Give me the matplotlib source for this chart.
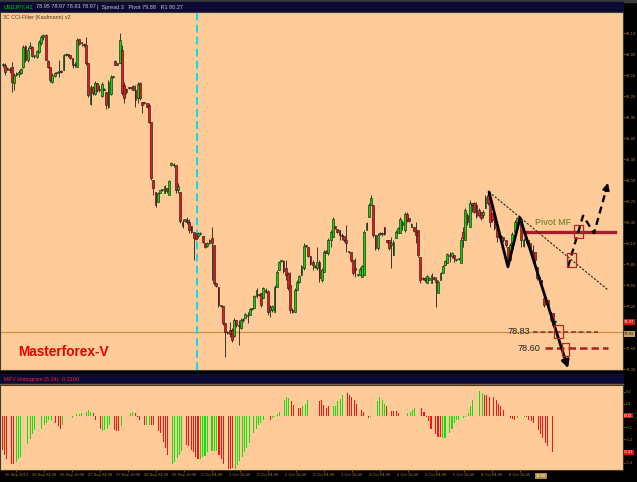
import numpy as np
import matplotlib.pyplot as plt
from matplotlib.patches import Rectangle

# USDJPY H1 candles
opens = [
    82.64, 82.65, 82.57, 82.58, 82.61, 82.39, 82.50, 82.51, 82.53, 82.61,
    82.91, 82.71, 82.89, 82.90, 82.77, 82.76, 82.83, 82.96, 83.04, 83.07,
    82.70, 82.62, 82.40, 82.48, 82.53, 82.54, 82.56, 82.57, 82.79, 82.79,
    82.79, 82.75, 82.65, 82.62, 83.01, 82.96, 82.94, 82.93, 82.67, 82.08,
    82.33, 82.23, 82.39, 82.29, 82.20, 82.30, 82.26, 82.05, 82.23, 82.47,
    82.70, 82.65, 82.67, 82.86, 82.36, 82.26, 82.31, 82.31, 82.34, 82.29,
    82.17, 82.39, 82.11, 82.10, 82.10, 82.07, 81.83, 81.00, 80.83, 80.68,
    80.82, 80.86, 80.82, 80.89, 80.79, 81.21, 81.23, 81.21, 80.86, 80.83,
    80.40, 80.41, 80.43, 80.40, 80.34, 80.26, 80.23, 80.20, 80.23, 80.20,
    80.10, 80.06, 80.10, 80.17, 80.07, 79.53, 79.47, 79.20, 79.20, 78.96,
    78.81, 78.86, 78.86, 78.77, 79.00, 78.93, 78.89, 79.00, 79.03, 79.07,
    79.07, 79.16, 79.17, 79.34, 79.37, 79.39, 79.31, 79.43, 79.41, 79.14,
    79.14, 79.11, 79.47, 79.71, 79.84, 79.84, 79.74, 79.67, 79.50, 79.14,
    79.11, 79.43, 79.54, 79.64, 79.74, 80.06, 80.04, 79.91, 79.83, 79.77,
    79.74, 79.83, 79.57, 79.69, 79.99, 79.96, 80.14, 80.19, 80.34, 80.30,
    80.29, 80.21, 80.20, 80.14, 79.97, 79.97, 79.86, 79.74, 79.64, 79.64,
    79.61, 79.64, 80.29, 80.47, 80.64, 80.64, 80.21, 80.03, 80.24, 80.23,
    80.33, 80.14, 80.14, 80.07, 79.93, 80.17, 80.24, 80.24, 80.36, 80.29,
    80.51, 80.46, 80.33, 80.33, 80.26, 80.29, 79.90, 79.60, 79.60, 79.53,
    79.57, 79.53, 79.61, 79.57, 79.39, 79.57, 79.67, 79.79, 79.81, 79.93,
    79.91, 79.93, 79.86, 79.87, 79.81, 80.26, 80.14, 80.50, 80.33, 80.67,
    80.67, 80.64, 80.57, 80.54, 80.50, 80.60, 80.79, 80.67, 80.53, 80.50,
    80.33, 80.21, 80.20, 80.19, 80.14, 80.04, 79.86, 80.04, 80.26, 80.40,
    80.43, 80.43, 80.06, 80.14, 80.14, 80.10, 80.00, 79.97, 79.76, 79.61,
    79.57, 79.31, 79.26, 79.29, 79.11, 79.10, 78.97]
highs = [
    82.67, 82.67, 82.61, 82.61, 82.68, 82.53, 82.54, 82.57, 82.60, 82.93,
    82.93, 82.90, 82.97, 82.91, 82.79, 82.86, 83.00, 83.07, 83.08, 83.08,
    82.71, 82.62, 82.53, 82.54, 82.54, 82.71, 82.57, 82.80, 82.82, 82.80,
    82.79, 82.75, 82.68, 83.03, 83.01, 82.97, 82.96, 83.04, 82.67, 82.36,
    82.34, 82.42, 82.39, 82.36, 82.40, 82.31, 82.26, 82.43, 82.50, 82.48,
    82.71, 82.67, 83.10, 82.93, 82.40, 82.31, 82.33, 82.33, 82.36, 82.36,
    82.40, 82.40, 82.11, 82.11, 82.10, 82.10, 81.83, 81.00, 80.83, 80.83,
    80.86, 80.87, 80.93, 80.89, 81.00, 81.26, 81.24, 81.21, 80.96, 80.83,
    80.44, 80.44, 80.47, 80.44, 80.34, 80.26, 80.24, 80.26, 80.26, 80.20,
    80.10, 80.11, 80.16, 80.33, 80.07, 79.53, 79.47, 79.21, 79.20, 78.96,
    78.84, 78.97, 78.89, 79.03, 79.00, 79.00, 79.03, 79.03, 79.10, 79.11,
    79.17, 79.17, 79.36, 79.46, 79.37, 79.39, 79.47, 79.46, 79.43, 79.21,
    79.21, 79.50, 79.71, 79.84, 79.86, 79.86, 79.86, 79.69, 79.69, 79.17,
    79.46, 79.57, 79.64, 79.79, 80.10, 80.07, 80.04, 79.91, 79.86, 79.79,
    80.04, 79.86, 79.74, 80.00, 80.00, 80.17, 80.29, 80.47, 80.34, 80.30,
    80.29, 80.24, 80.20, 80.36, 79.99, 79.97, 79.86, 79.89, 79.66, 79.76,
    79.79, 80.29, 80.40, 80.67, 80.79, 80.64, 80.21, 80.24, 80.26, 80.26,
    80.33, 80.14, 80.14, 80.19, 80.14, 80.29, 80.33, 80.47, 80.43, 80.54,
    80.54, 80.46, 80.39, 80.33, 80.40, 80.29, 79.90, 79.61, 79.61, 79.64,
    79.61, 79.67, 79.61, 79.61, 79.57, 79.69, 79.79, 79.86, 79.96, 79.97,
    79.97, 79.93, 79.87, 79.89, 80.19, 80.33, 80.60, 80.53, 80.71, 80.67,
    80.69, 80.69, 80.60, 80.54, 80.57, 80.79, 80.83, 80.69, 80.53, 80.50,
    80.33, 80.23, 80.21, 80.19, 80.14, 80.04, 80.10, 80.26, 80.43, 80.47,
    80.50, 80.43, 80.17, 80.21, 80.14, 80.10, 80.07, 79.97, 79.76, 79.61,
    79.57, 79.31, 79.31, 79.29, 79.11, 79.10, 79.00]
lows = [
    82.62, 82.50, 82.57, 82.53, 82.26, 82.29, 82.48, 82.47, 82.51, 82.60,
    82.68, 82.68, 82.87, 82.76, 82.75, 82.75, 82.82, 82.93, 83.00, 82.71,
    82.60, 82.40, 82.39, 82.47, 82.53, 82.47, 82.53, 82.57, 82.77, 82.76,
    82.73, 82.60, 82.62, 82.62, 82.93, 82.91, 82.90, 82.64, 82.19, 82.07,
    82.22, 82.22, 82.26, 82.26, 82.19, 82.28, 82.01, 82.03, 82.22, 82.46,
    82.64, 82.64, 82.67, 82.22, 82.10, 82.23, 82.30, 82.30, 82.28, 82.04,
    82.10, 82.14, 81.96, 82.08, 82.04, 81.82, 81.00, 80.79, 80.61, 80.68,
    80.82, 80.85, 80.82, 80.82, 80.79, 81.20, 81.19, 80.82, 80.82, 80.39,
    80.31, 80.40, 80.37, 80.24, 80.24, 79.86, 80.14, 80.17, 80.21, 80.10,
    80.03, 80.04, 80.09, 79.57, 79.50, 79.47, 79.19, 79.19, 78.93, 78.47,
    78.80, 78.76, 78.69, 78.76, 78.90, 78.64, 78.87, 78.97, 79.03, 78.96,
    79.07, 79.14, 79.17, 79.31, 79.34, 79.19, 79.31, 79.39, 79.07, 79.04,
    79.11, 79.11, 79.47, 79.71, 79.83, 79.67, 79.57, 79.43, 79.10, 79.10,
    79.11, 79.43, 79.53, 79.64, 79.71, 80.04, 79.90, 79.79, 79.71, 79.74,
    79.71, 79.54, 79.54, 79.69, 79.96, 79.93, 80.04, 80.19, 80.30, 80.24,
    80.14, 80.14, 80.11, 79.97, 79.96, 79.83, 79.64, 79.61, 79.63, 79.64,
    79.61, 79.64, 80.29, 80.47, 80.64, 80.19, 80.00, 80.00, 80.21, 80.20,
    80.21, 80.10, 80.00, 79.74, 79.93, 80.17, 80.24, 80.24, 80.29, 80.26,
    80.40, 80.40, 80.33, 80.26, 80.10, 79.90, 79.53, 79.57, 79.54, 79.53,
    79.57, 79.53, 79.57, 79.19, 79.39, 79.57, 79.67, 79.79, 79.81, 79.83,
    79.89, 79.83, 79.84, 79.86, 79.81, 80.04, 80.14, 80.36, 80.33, 80.54,
    80.53, 80.46, 80.47, 80.43, 80.46, 80.60, 80.64, 80.33, 80.40, 80.29,
    80.11, 80.17, 80.14, 80.11, 80.04, 79.76, 79.86, 80.04, 80.26, 80.40,
    80.39, 80.04, 80.04, 80.10, 80.04, 79.97, 79.90, 79.81, 79.57, 79.57,
    79.53, 79.19, 79.26, 79.19, 78.97, 78.90, 78.90]
closes = [
    82.65, 82.54, 82.60, 82.57, 82.40, 82.50, 82.53, 82.54, 82.58, 82.90,
    82.71, 82.86, 82.91, 82.77, 82.77, 82.85, 82.97, 83.04, 83.07, 82.71,
    82.62, 82.43, 82.50, 82.53, 82.54, 82.56, 82.54, 82.79, 82.80, 82.79,
    82.75, 82.65, 82.64, 83.00, 82.94, 82.96, 82.93, 82.67, 82.22, 82.33,
    82.25, 82.39, 82.29, 82.30, 82.37, 82.29, 82.07, 82.40, 82.47, 82.47,
    82.65, 82.67, 83.00, 82.25, 82.17, 82.30, 82.31, 82.31, 82.29, 82.14,
    82.37, 82.17, 82.07, 82.10, 82.05, 81.83, 81.03, 80.89, 80.64, 80.82,
    80.86, 80.86, 80.91, 80.85, 80.99, 81.24, 81.21, 80.86, 80.91, 80.41,
    80.34, 80.44, 80.40, 80.29, 80.26, 80.17, 80.16, 80.24, 80.23, 80.11,
    80.04, 80.10, 80.14, 80.10, 79.53, 79.49, 79.21, 79.20, 78.96, 78.83,
    78.83, 78.80, 78.71, 79.00, 78.93, 78.91, 79.00, 79.01, 79.09, 79.06,
    79.16, 79.17, 79.34, 79.43, 79.36, 79.21, 79.46, 79.40, 79.11, 79.17,
    79.20, 79.47, 79.69, 79.83, 79.84, 79.70, 79.64, 79.46, 79.14, 79.11,
    79.43, 79.54, 79.63, 79.77, 80.06, 80.06, 79.91, 79.80, 79.79, 79.76,
    79.83, 79.60, 79.71, 79.97, 79.96, 80.14, 80.26, 80.44, 80.31, 80.26,
    80.21, 80.20, 80.14, 80.10, 79.97, 79.86, 79.67, 79.71, 79.64, 79.73,
    79.77, 80.26, 80.39, 80.64, 80.74, 80.21, 80.03, 80.21, 80.23, 80.24,
    80.23, 80.11, 80.03, 80.10, 80.11, 80.26, 80.31, 80.44, 80.40, 80.51,
    80.43, 80.41, 80.37, 80.27, 80.21, 79.93, 79.57, 79.59, 79.57, 79.63,
    79.60, 79.64, 79.59, 79.54, 79.54, 79.67, 79.77, 79.84, 79.94, 79.91,
    79.96, 79.89, 79.86, 79.87, 80.14, 80.17, 80.57, 80.40, 80.67, 80.64,
    80.54, 80.49, 80.50, 80.46, 80.54, 80.76, 80.67, 80.40, 80.43, 80.31,
    80.19, 80.20, 80.17, 80.14, 80.07, 79.83, 80.07, 80.23, 80.40, 80.46,
    80.40, 80.14, 80.14, 80.19, 80.07, 80.00, 79.93, 79.86, 79.60, 79.59,
    79.54, 79.21, 79.29, 79.21, 79.00, 78.93, 78.97]

# oscillator histogram (0 = no bar), colour per bar: r / g / .
hist_vals = [
    -0.29, -0.33, -0.37, 0, -0.41, -0.41, -0.39, -0.37, -0.35, 0,
    0, -0.24, -0.20, -0.16, -0.12, 0, 0, -0.11, -0.08, -0.06,
    -0.04, -0.04, 0, -0.06, -0.09, -0.11, -0.08, 0, 0, 0,
    -0.02, 0, 0.01, 0.01, 0.02, 0, 0.03, 0.05, 0.03, 0.02,
    -0.04, 0, -0.11, -0.13, -0.12, -0.11, -0.08, 0, -0.12, -0.13,
    -0.13, -0.09, 0, 0, 0, 0.02, 0.03, 0.02, -0.01, -0.04,
    0, -0.08, -0.08, -0.08, -0.08, -0.08, 0, -0.13, -0.15, -0.22,
    -0.27, -0.33, 0, -0.41, -0.39, -0.36, -0.33, -0.30, 0, -0.25,
    -0.26, -0.29, -0.31, -0.35, -0.37, -0.37, -0.35, -0.34, -0.31, 0,
    -0.30, -0.30, -0.30, -0.33, -0.37, -0.41, 0, -0.45, -0.45, -0.44,
    -0.45, -0.42, -0.38, -0.35, -0.31, -0.27, -0.23, 0, -0.15, -0.11,
    -0.08, -0.06, -0.04, 0, 0, -0.04, -0.02, -0.01, 0.01, 0.03,
    0, 0.13, 0.16, 0.15, 0.12, 0.09, 0, 0.06, 0.06, 0.08,
    0.10, 0.13, 0, 0, 0, 0, 0.12, 0.13, 0.09, 0.06,
    0.08, 0, 0.08, 0.08, 0.12, 0.14, 0.17, 0, 0.19, 0.17,
    0.16, 0.13, 0.10, 0, 0.05, 0.03, 0, -0.02, -0.01, 0,
    0, 0.12, 0.16, 0.13, 0.10, 0.08, 0, 0.04, 0.04, 0.04,
    0.02, 0, 0, 0, 0.02, 0.03, 0.05, 0.06, 0, 0,
    0.06, 0.03, -0.01, -0.05, -0.11, 0, -0.16, -0.18, -0.18, -0.19,
    -0.19, 0, -0.15, -0.11, -0.06, -0.04, -0.04, 0, -0.02, -0.01,
    0.02, 0.08, 0.13, 0, 0, 0.21, 0.19, 0.17, 0.17, 0.16,
    0, 0.16, 0.13, 0.10, 0.08, 0.05, 0, 0, -0.02, -0.03,
    -0.04, -0.02, 0, 0, -0.01, -0.01, -0.04, -0.05, -0.06, 0,
    -0.12, -0.16, -0.19, -0.23, -0.26, 0, -0.31]
hist_cols = ("rrr.rrggg." ".gggg..ggg" "gg.rrrg..." "g.ggg.gggr" "r.rgggg.rr"
             "rg...ggrrr" ".rggrr.rrr" "rr.ggggg.r" "rrrrrgggg." "gggrrr.rrr"
             "ggggggg.gg" "ggg..rgggg" ".gggrr.rrg" "gg....rrrr" "r.ggggg.rr"
             "rrr.rr.rg." ".ggggr.rrr" "r...gggg.." "rrrrr.rrrg" "g.ggggg.gg"
             "ggg..ggrrr" ".rrrrr..rr" "rg..grrrr." "rrrrr.r")

# 78.90 sits under the price boxes on the right scale
price_ticks = [78.30, 78.60, 79.20, 79.50, 79.80, 80.10, 80.40, 80.70,
               81.00, 81.30, 81.60, 81.90, 82.20, 82.50, 82.80, 83.10]
osc_ticks = [0.2, 0.1, -0.1, -0.2, -0.4]
date_labels = ['25 Sep 2012', '26 Sep 04:00', '26 Sep 16:00', '27 Sep 04:00',
               '27 Sep 16:00', '28 Sep 04:00', '28 Sep 16:00', '1 Oct 04:00',
               '1 Oct 16:00', '2 Oct 04:00', '2 Oct 16:00', '3 Oct 04:00',
               '3 Oct 16:00', '4 Oct 04:00', '4 Oct 16:00', '5 Oct 04:00',
               '5 Oct 16:00', '8 Oct 04:00', '8 Oct 16:00']

level_1 = 78.83
level_2 = 78.60
pivot_mf = 80.26
last_price = closes[-1]
last_osc = -0.31
vline_bar = 86.4

# hand drawn forecast (bar index, price)
zigzag_x = [216.6, 225.0, 230.4]
zigzag_y = [80.83, 79.76, 80.46]
zigzag_tip = (251.8, 78.31)
trend_x = [216.6, 269.6]
trend_y = [80.83, 79.43]
dash_x = [251.8, 258.5, 263.4]
dash_y = [79.76, 80.49, 80.24]
dash_tip = (269.6, 80.96)
boxes = [(254.5, 80.17, 4.0, 0.19), (251.3, 79.76, 4.0, 0.20),
         (245.5, 78.74, 4.1, 0.19), (249.1, 78.49, 3.1, 0.18)]

W, H = 637, 482
BG = '#ffcc99'
AXC = '#a8783c'
SANS = ['Liberation Sans', 'DejaVu Sans']


def frac(x0, y0, x1, y1):
    return [x0 / W, 1 - y1 / H, (x1 - x0) / W, (y1 - y0) / H]


fig = plt.figure(figsize=(W / 100, H / 100), dpi=100, facecolor='black')

# header bars
fig.add_artist(Rectangle((0, 1 - 2 / H), 1, 2 / H, transform=fig.transFigure,
                         color='#3a3a3a', zorder=0))
fig.add_artist(Rectangle((0, 1 - 12 / H), 623 / W, 10 / H, transform=fig.transFigure,
                         color='#0a0a34', zorder=0))
fig.add_artist(Rectangle((0, 1 - 384 / H), 623 / W, 10 / H, transform=fig.transFigure,
                         color='#0a0a34', zorder=0))
fig.add_artist(Rectangle((0, 1 - 385 / H), 623 / W, 1 / H, transform=fig.transFigure,
                         color='#8a6030', zorder=0))
fig.text(4 / W, 1 - 7 / H, 'USDJPY,H1', color='#00d000', fontsize=4.0, va='center',
         family=SANS)
fig.text(36 / W, 1 - 7 / H, '78.95 78.97 78.93 78.97', color='#c8c8c8', fontsize=4.0,
         va='center', family=SANS)
fig.text(97 / W, 1 - 7 / H, '|  Spread 3   Pivot 79.88   R1 80.27', color='#c8c8c8',
         fontsize=4.0, va='center', family=SANS)
fig.text(4 / W, 1 - 379 / H, 'MFV Histogram (5,34) -0.3100', color='#ff2020',
         fontsize=4.0, va='center', family=SANS)

# ---- main price panel
ax = fig.add_axes(frac(0, 12, 623, 370))
ax.set_facecolor(BG)
n = len(closes)
x = np.arange(n)
o = np.array(opens)
c = np.array(closes)
cols = np.where(c >= o, '#00e000', '#ff1010')
ax.vlines(x, lows, highs, color='#1c1c1c', lw=0.6, zorder=2)
ax.bar(x, np.maximum(np.abs(c - o), 0.015), bottom=np.minimum(o, c), width=0.8,
       color=cols, edgecolor='#1c1c1c', linewidth=0.45, zorder=3)

ax.axhline(level_1, color='#c8903a', lw=0.9, zorder=1)
ax.axvline(vline_bar, color='#00e0ee', lw=1.4, ls=(0, (4, 2.2)), zorder=1)

ax.text(18 / 623, 0.05, 'Masterforex-V', transform=ax.transAxes, color='#e60000',
        fontsize=9.8, fontweight='bold', family=SANS, va='center')
ax.text(3 / 623, 0.986, '3C CCI-Filter (Kaufmann) v2', transform=ax.transAxes,
        color='#4a3818', fontsize=3.8, va='center', family=SANS)

# forecast drawing
ax.plot(trend_x, trend_y, color='#222222', lw=0.8, ls=(0, (2, 1.4)), zorder=5)
ax.plot(zigzag_x, zigzag_y, color='black', lw=2.0, zorder=6, solid_capstyle='round')
ax.annotate('', xy=zigzag_tip, xytext=(zigzag_x[-1], zigzag_y[-1]),
            arrowprops=dict(arrowstyle='-|>', color='black', lw=2.0, mutation_scale=11,
                            shrinkA=0, shrinkB=0), zorder=6)
ax.plot(dash_x + [dash_tip[0] - 1.0], dash_y + [dash_tip[1] - 0.12], color='black',
        lw=1.7, ls=(0, (3, 2)), zorder=6)
ax.annotate('', xy=dash_tip, xytext=(dash_tip[0] - 1.0, dash_tip[1] - 0.12),
            arrowprops=dict(arrowstyle='-|>', color='black', lw=1.5, mutation_scale=10,
                            shrinkA=0, shrinkB=0), zorder=6)
ax.plot([231.7, 272.7], [pivot_mf, pivot_mf], color='#a51c2a', lw=2.4, zorder=4)
ax.text(237.0, pivot_mf + 0.14, 'Pivot MF', color='#5d7a1e', fontsize=6.6,
        family=SANS, va='center')
for bx, by, bw, bh in boxes:
    ax.add_patch(Rectangle((bx, by), bw, bh, fill=False, edgecolor='#b42424', lw=0.9,
                           zorder=7))
ax.plot([236.2, 265.1], [level_1, level_1], color='#8e2a20', lw=1.1, ls=(0, (3, 2)),
        zorder=5)
ax.plot([241.5, 269.6], [level_2, level_2], color='#b01e1e', lw=1.8, ls=(0, (3, 1.6)),
        zorder=5)
ax.text(234.8, level_1, '78.83', ha='right', va='center', fontsize=6.6, color='#202020',
        family=SANS)
ax.text(239.7, level_2, '78.60', ha='right', va='center', fontsize=6.6, color='#202020',
        family=SANS)

ax.set_xlim(-1.34, 276.3)
ax.set_ylim(78.286, 83.40)
ax.set_xticks([])
ax.yaxis.tick_right()
ax.set_yticks(price_ticks)
ax.set_yticklabels(['%.2f' % t for t in price_ticks], family=SANS)
ax.tick_params(axis='y', colors=AXC, labelsize=3.0, length=1.2, pad=0.6, width=0.5)
for s in ax.spines.values():
    s.set_color('#3a3a3a')
    s.set_linewidth(0.8)
ytr = ax.get_yaxis_transform()
ax.text(1.002, last_price, '%.2f' % last_price, transform=ytr, fontsize=3.0,
        color='white', va='center', ha='left', zorder=10, family=SANS,
        bbox=dict(boxstyle='square,pad=0.15', fc='#ee1010', ec='none'))
ax.text(1.002, level_1 - 0.03, '%.2f' % level_1, transform=ytr, fontsize=3.0,
        color='#202020', va='center', ha='left', zorder=10, family=SANS,
        bbox=dict(boxstyle='square,pad=0.15', fc='#c8a060', ec='none'))

# ---- oscillator panel
sub = fig.add_axes(frac(0, 385, 623, 470))
sub.set_facecolor(BG)
hv = np.array(hist_vals)
k = np.arange(len(hv))
color_map = {'r': '#ff1010', 'g': '#10e010', '.': BG}
sub.bar(k, hv, width=0.45, color=[color_map[ch] for ch in hist_cols], linewidth=0)
sub.set_xlim(-0.99, 266.4)
sub.set_ylim(-0.46, 0.258)
sub.yaxis.tick_right()
sub.set_yticks(osc_ticks)
sub.set_yticklabels(['%.1f' % t for t in osc_ticks], family=SANS)
sub.tick_params(axis='y', colors=AXC, labelsize=3.0, length=1.2, pad=0.6, width=0.5)
sub.set_xticks(np.arange(len(date_labels)) * 12 + 6)
sub.set_xticklabels(date_labels, family=SANS)
sub.tick_params(axis='x', colors=AXC, labelsize=3.0, length=1.2, pad=1, width=0.5)
for s in sub.spines.values():
    s.set_color('#3a3a3a')
    s.set_linewidth(0.8)
ytr2 = sub.get_yaxis_transform()
sub.text(1.002, 0.0, '0.00', transform=ytr2, fontsize=3.0, color='white',
         va='center', ha='left', family=SANS,
         bbox=dict(boxstyle='square,pad=0.15', fc='#ee1010', ec='none'))
sub.text(1.002, last_osc, '%.2f' % last_osc, transform=ytr2, fontsize=3.0,
         color='white', va='center', ha='left', family=SANS,
         bbox=dict(boxstyle='square,pad=0.15', fc='#ee1010', ec='none'))
fig.text(541 / W, 1 - 476 / H, '12:00', fontsize=3.0, color='white', ha='center',
         va='center', family=SANS,
         bbox=dict(boxstyle='square,pad=0.2', fc='#b08a40', ec='none'))

fig.savefig('out.png', dpi=100, facecolor=fig.get_facecolor())
